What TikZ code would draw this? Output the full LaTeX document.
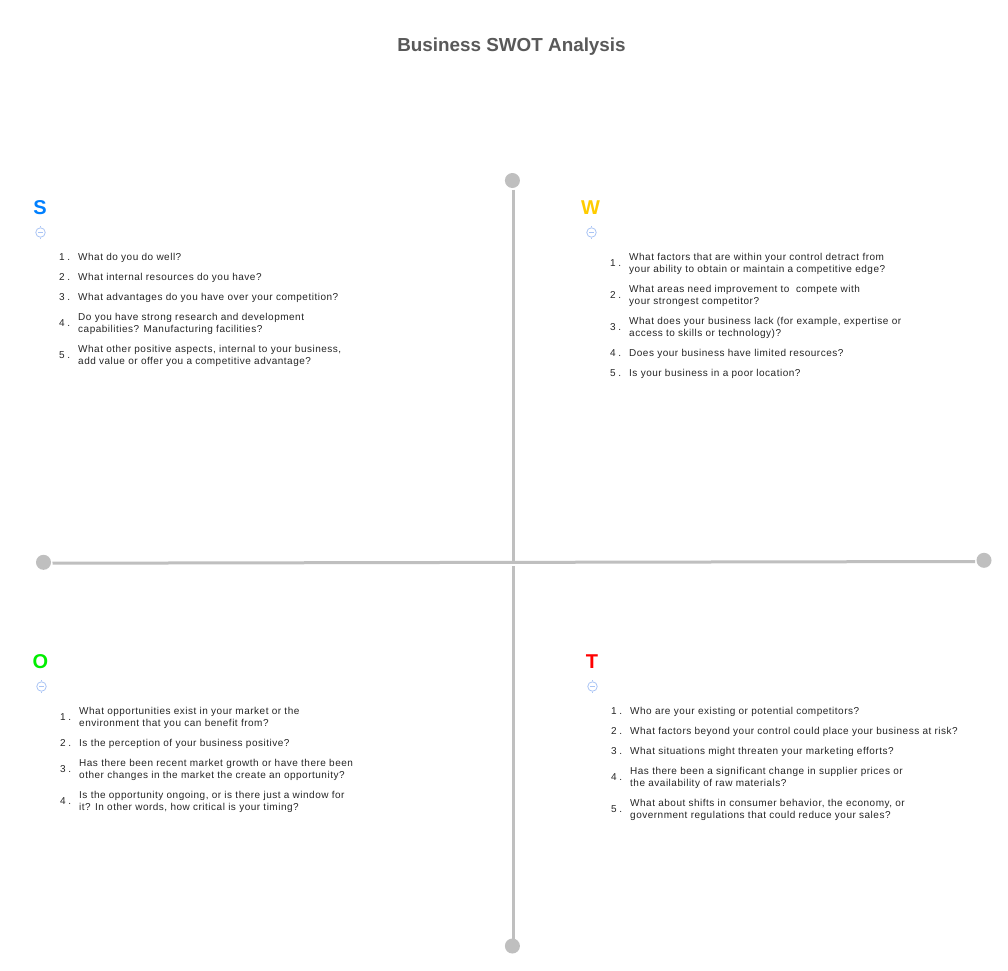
\documentclass[tikz,border=0pt]{standalone}
\usepackage{fontspec}
\setmainfont{Liberation Sans}
\newfontfamily\qfont[LetterSpace=5]{Liberation Sans}
\definecolor{axisgrey}{HTML}{BFBFBF}
\definecolor{txt}{HTML}{262626}
\definecolor{titlegrey}{HTML}{595959}
\definecolor{iconblue}{HTML}{A9C4F5}
\definecolor{sblue}{HTML}{0080FF}
\definecolor{wyellow}{HTML}{FFCC00}
\definecolor{ogreen}{HTML}{00EE00}
\definecolor{tred}{HTML}{FF0000}
\newcommand{\lstr}{\rule[-3.5pt]{0pt}{12pt}}
\newcommand{\qq}[5]{%
 \node[qtext] (#1t) at (#3+19,#4) {\lstr #5};
 \node[qnum] (#1n) at ([yshift=0.9pt]#3,0 |- #1t.west) {#2\hspace{2.6pt}.};
}
\newcommand{\icon}[3]{%
 \node[iconc] (#1) at (#2,#3) {};
 \draw[iconl] (#1.north) -- ++(0,-1);
 \draw[iconl] (#1.south) -- ++(0,1);
 \draw[iconl,line width=.9pt] ([xshift=-2.4pt]#1.center) -- ([xshift=2.4pt]#1.center);
}
\tikzset{
 x=1pt,y=-1pt,
 qtext/.style={anchor=north west,inner sep=0pt,align=left,text=txt,font=\qfont\fontsize{10}{12}\selectfont},
 qnum/.style={anchor=west,inner sep=0pt,text=txt,font=\qfont\fontsize{10}{12}\selectfont},
 dot/.style={circle,fill=axisgrey,draw=none,minimum size=15pt,inner sep=0pt,outer sep=1.5pt},
 axis/.style={draw=axisgrey,line width=3pt},
 swot/.style={font=\bfseries\fontsize{20}{24}\selectfont,inner sep=0pt},
 iconc/.style={circle,draw=iconblue,line width=.8pt,minimum size=9.5pt,inner sep=0pt,outer sep=1pt},
 iconl/.style={draw=iconblue,line width=.5pt},
}
\begin{document}
\begin{tikzpicture}
\useasboundingbox (0,0) rectangle (1008,970);
\fill[white] (0,0) rectangle (1008,970);
\node[inner sep=0pt,text=titlegrey,font=\bfseries\fontsize{18.85}{24}\selectfont] (title) at (511.5,46.5) {Business SWOT Analysis};
% axes
\node[dot] (top) at (512.4,180.5) {};
\node[dot] (bottom) at (512.4,946) {};
\node[dot] (left) at (43.5,562.3) {};
\node[dot] (right) at (984,560.3) {};
\coordinate (upper) at (513.5,564);
\coordinate (lower) at (513.5,566);
\coordinate (hl) at (left.east |- 0,563.2);
\coordinate (hr) at (right.west |- 0,561.5);
\draw[axis] (hl) -- (hr);
\draw[axis] (top.south -| upper) -- (upper);
\draw[axis] (lower) -- (bottom -| lower);
% S
\node[swot,text=sblue] (S) at (40,207.5) {S};
\icon{iS}{40.5}{232.5}
\qq{s1}{1}{59}{251.5}{What do you do well?}
\qq{s2}{2}{59}{271.5}{What internal resources do you have?}
\qq{s3}{3}{59}{291.5}{What advantages do you have over your competition?}
\qq{s4}{4}{59}{311.5}{Do you have strong research and development\\\lstr capabilities? Manufacturing facilities?}
\qq{s5}{5}{59}{343.5}{What other positive aspects, internal to your business,\\\lstr add value or offer you a competitive advantage?}
% W
\node[swot,text=wyellow] (W) at (590.5,207.5) {W};
\icon{iW}{591.5}{232.5}
\qq{w1}{1}{610}{251.5}{What factors that are within your control detract from\\\lstr your ability to obtain or maintain a competitive edge?}
\qq{w2}{2}{610}{283.5}{What areas need improvement to\ \ compete with\\\lstr your strongest competitor?}
\qq{w3}{3}{610}{315.5}{What does your business lack (for example, expertise or\\\lstr access to skills or technology)?}
\qq{w4}{4}{610}{347.5}{Does your business have limited resources?}
\qq{w5}{5}{610}{367.5}{Is your business in a poor location?}
% O
\node[swot,text=ogreen] (O) at (40.5,661.5) {O};
\icon{iO}{41.5}{686.5}
\qq{o1}{1}{60}{705.5}{What opportunities exist in your market or the\\\lstr environment that you can benefit from?}
\qq{o2}{2}{60}{737.5}{Is the perception of your business positive?}
\qq{o3}{3}{60}{757.5}{Has there been recent market growth or have there been\\\lstr other changes in the market the create an opportunity?}
\qq{o4}{4}{60}{789.5}{Is the opportunity ongoing, or is there just a window for\\\lstr it? In other words, how critical is your timing?}
% T
\node[swot,text=tred] (T) at (592,661.5) {T};
\icon{iT}{592.5}{686.5}
\qq{t1}{1}{611}{705.5}{Who are your existing or potential competitors?}
\qq{t2}{2}{611}{725.5}{What factors beyond your control could place your business at risk?}
\qq{t3}{3}{611}{745.5}{What situations might threaten your marketing efforts?}
\qq{t4}{4}{611}{765.5}{Has there been a significant change in supplier prices or\\\lstr the availability of raw materials?}
\qq{t5}{5}{611}{797.5}{What about shifts in consumer behavior, the economy, or\\\lstr government regulations that could reduce your sales?}
\end{tikzpicture}
\end{document}
